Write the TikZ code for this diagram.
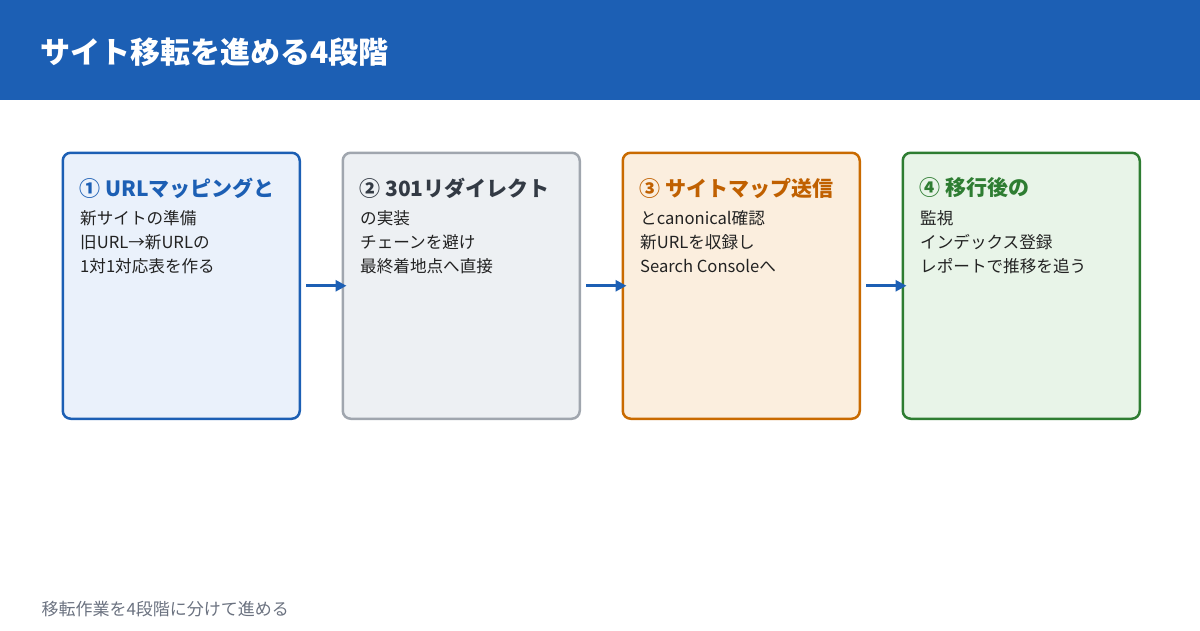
\documentclass[tikz,border=0pt]{standalone}
\usepackage{fontspec}
\setmainfont{Noto Sans CJK JP}
\usetikzlibrary{positioning,arrows.meta}
\definecolor{hdrblue}{HTML}{1C5FB4}
\definecolor{fillA}{HTML}{EAF1FB}
\definecolor{fillB}{HTML}{EDF0F3}
\definecolor{lineB}{HTML}{A0A6AE}
\definecolor{textB}{HTML}{333A44}
\definecolor{fillC}{HTML}{FBEEDE}
\definecolor{lineC}{HTML}{C96A00}
\definecolor{textC}{HTML}{C06000}
\definecolor{fillD}{HTML}{E8F4E8}
\definecolor{lineD}{HTML}{2E7D32}
\definecolor{bodytext}{HTML}{222222}
\definecolor{foot}{HTML}{6B7280}
\tikzset{
  stage/.style={draw, line width=2.5pt, rounded corners=8pt, minimum width=237pt, minimum height=266pt, anchor=north west},
  stagetitle/.style={anchor=west, font=\bfseries\fontsize{21}{24}\selectfont},
  stagebody/.style={anchor=north west, align=left, text=bodytext, font=\fontsize{16.6}{24}\selectfont, inner sep=0pt},
  flow/.style={-{Triangle[length=11pt,width=11pt]}, line width=3pt, draw=hdrblue}
}
\begin{document}
\begin{tikzpicture}[x=1pt,y=-1pt]
  \useasboundingbox (0,0) rectangle (1200,630);
  % Header
  \fill[hdrblue] (0,0) rectangle (1200,100);
  \node[anchor=west, text=white, font=\bfseries\fontsize{30}{34}\selectfont] (title) at (37,52) {サイト移転を進める4段階};
  % Stages
  \node[stage, draw=hdrblue, fill=fillA] (s1) at (61.5,151.5) {};
  \node[stage, draw=lineB, fill=fillB] (s2) at (341.5,151.5) {};
  \node[stage, draw=lineC, fill=fillC] (s3) at (621.5,151.5) {};
  \node[stage, draw=lineD, fill=fillD] (s4) at (901.5,151.5) {};
  % Titles
  \node[stagetitle, text=hdrblue] (t1) at (76,188) {① URLマッピングと};
  \node[stagetitle, text=textB] (t2) at (356,188) {② 301リダイレクト};
  \node[stagetitle, text=textC] (t3) at (636,188) {③ サイトマップ送信};
  \node[stagetitle, text=lineD] (t4) at (916,188) {④ 移行後の};
  % Bodies
  \node[stagebody] (b1) at (80,210) {新サイトの準備\\旧URL→新URLの\\1対1対応表を作る};
  \node[stagebody] (b2) at (360,210) {の実装\\チェーンを避け\\最終着地点へ直接};
  \node[stagebody] (b3) at (640,210) {とcanonical確認\\新URLを収録し\\Search Consoleへ};
  \node[stagebody] (b4) at (920,210) {監視\\インデックス登録\\レポートで推移を追う};
  % Arrows
  \draw[flow] ([xshift=5pt]s1.east) -- ([xshift=5pt]s2.west);
  \draw[flow] ([xshift=5pt]s2.east) -- ([xshift=5pt]s3.west);
  \draw[flow] ([xshift=5pt]s3.east) -- ([xshift=5pt]s4.west);
  % Footer
  \node[anchor=west, text=foot, font=\fontsize{17}{20}\selectfont] (note) at (38,609) {移転作業を4段階に分けて進める};
\end{tikzpicture}
\end{document}
